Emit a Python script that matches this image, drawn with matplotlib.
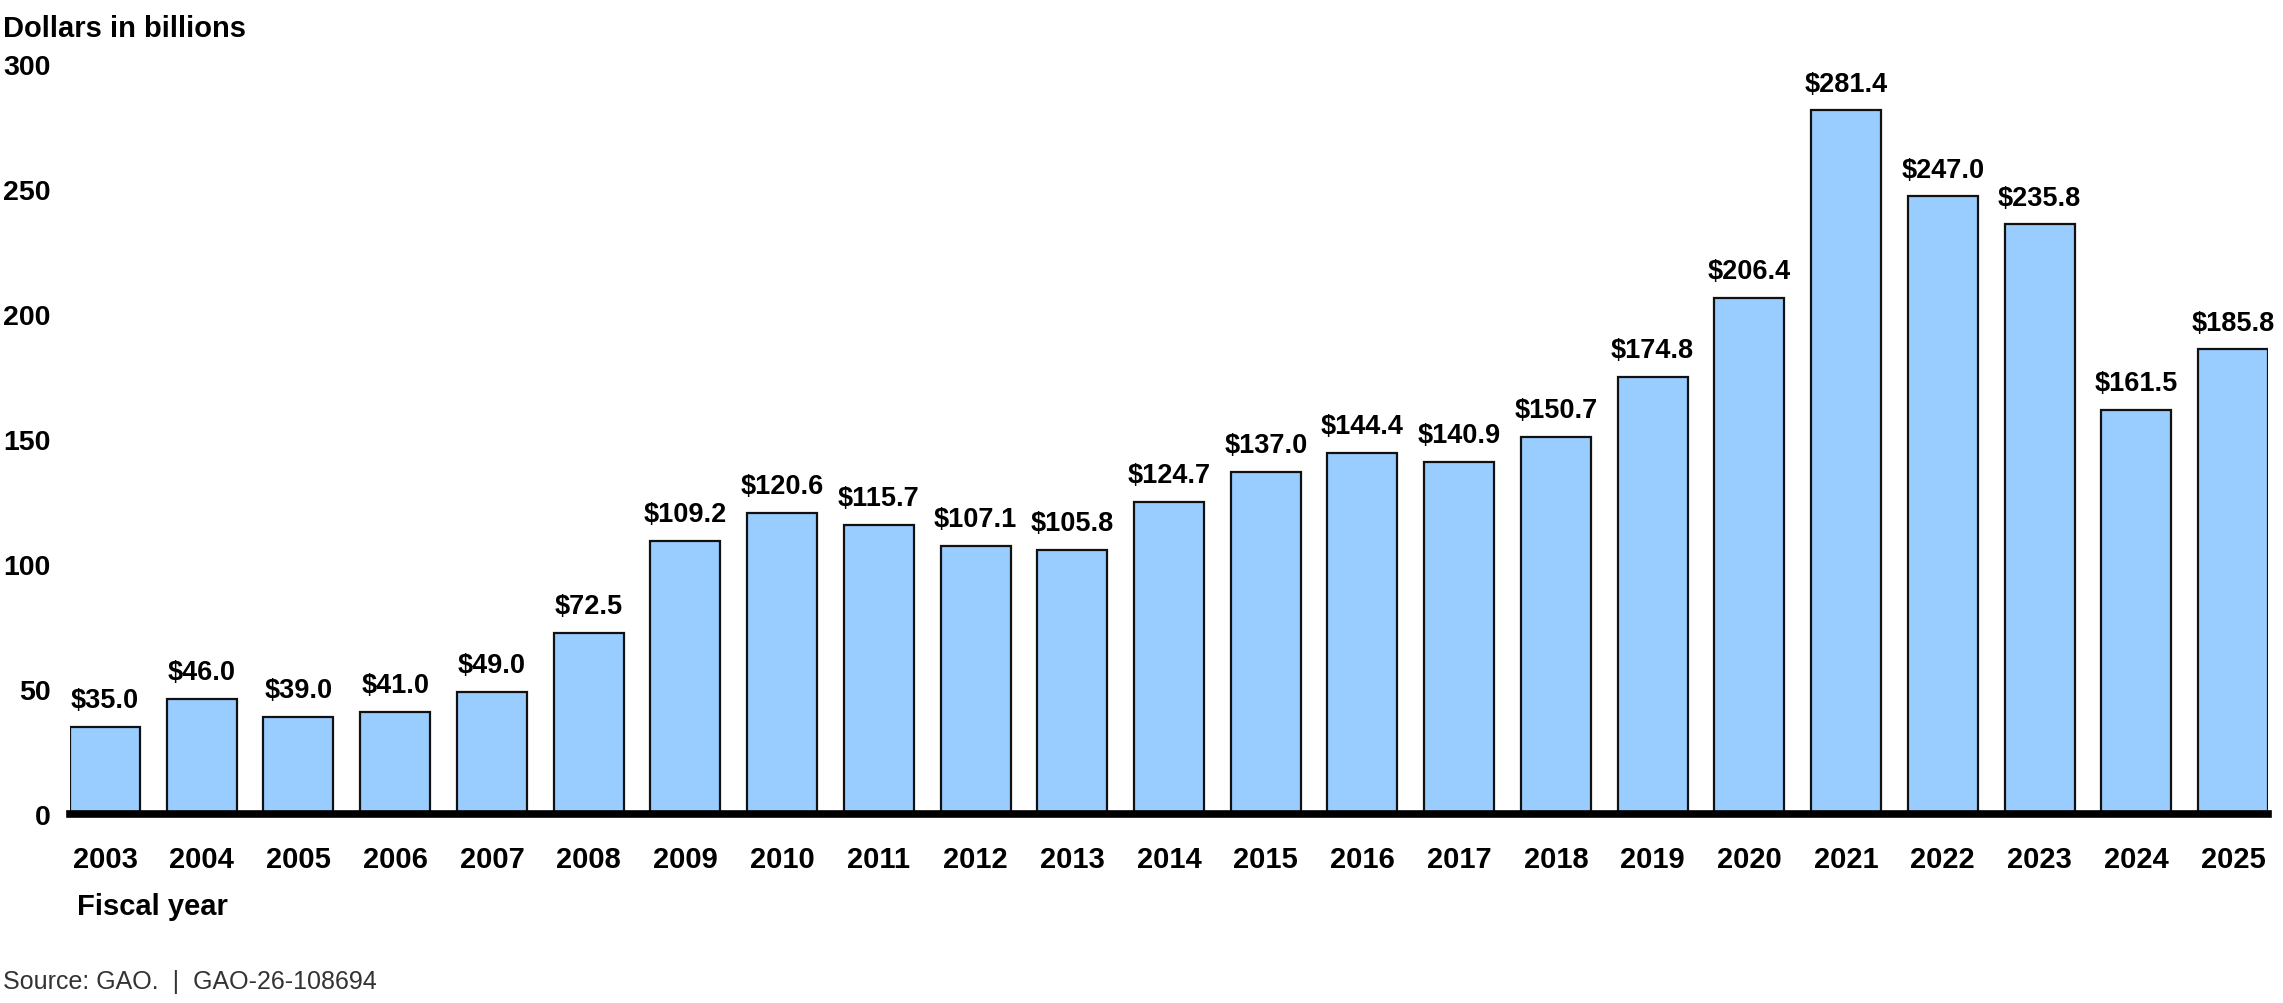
# GAO bar chart: dollars in billions by fiscal year
import numpy as np
import matplotlib
matplotlib.use("Agg")
import matplotlib.pyplot as plt

plt.rcParams['font.family'] = ['Liberation Sans', 'DejaVu Sans']

years = ['2003', '2004', '2005', '2006', '2007', '2008', '2009', '2010', '2011', '2012',
         '2013', '2014', '2015', '2016', '2017', '2018', '2019', '2020', '2021', '2022',
         '2023', '2024', '2025']
amounts = [35.0, 46.0, 39.0, 41.0, 49.0, 72.5, 109.2, 120.6, 115.7, 107.1,
           105.8, 124.7, 137.0, 144.4, 140.9, 150.7, 174.8, 206.4, 281.4, 247.0,
           235.8, 161.5, 185.8]
yticks = [0, 50, 100, 150, 200, 250, 300]

fig = plt.figure(figsize=(22.83, 10.04), dpi=100)
ax = fig.add_axes([0.03066, 0.1882, 0.96277, 0.7471])

x = np.arange(len(years))
bw = 0.724
ax.bar(x, amounts, width=bw, color='#99CCFF', edgecolor='#111111', linewidth=1.6, zorder=2)

for xi, v in zip(x, amounts):
    ax.annotate('${:.1f}'.format(v), (xi, v), xytext=(0, 10), textcoords='offset points',
                ha='center', va='bottom', fontsize=19.5, fontweight='bold')

ax.axhline(0, color='black', linewidth=5.5, zorder=3, clip_on=False)

ax.set_xlim(-bw / 2, len(years) - 1 + bw / 2)
ax.set_ylim(0, 300)
ax.set_yticks(yticks)
ax.set_yticklabels([str(t) for t in yticks], fontsize=20.5, fontweight='bold')
ax.set_xticks(x)
ax.set_xticklabels(years, fontsize=21, fontweight='bold')
ax.tick_params(axis='y', length=0, pad=14)
ax.tick_params(axis='x', length=0, pad=22)
for s in ax.spines.values():
    s.set_visible(False)

fig.text(0.0013, 0.985, 'Dollars in billions', fontsize=21, fontweight='bold', va='top', ha='left')
fig.text(0.0337, 0.097, 'Fiscal year', fontsize=21, fontweight='bold', va='center', ha='left')
fig.text(0.0013, 0.022, 'Source: GAO.  |  GAO-26-108694', fontsize=18, color='#333333',
         va='center', ha='left')

fig.savefig('out.png', dpi=100)
